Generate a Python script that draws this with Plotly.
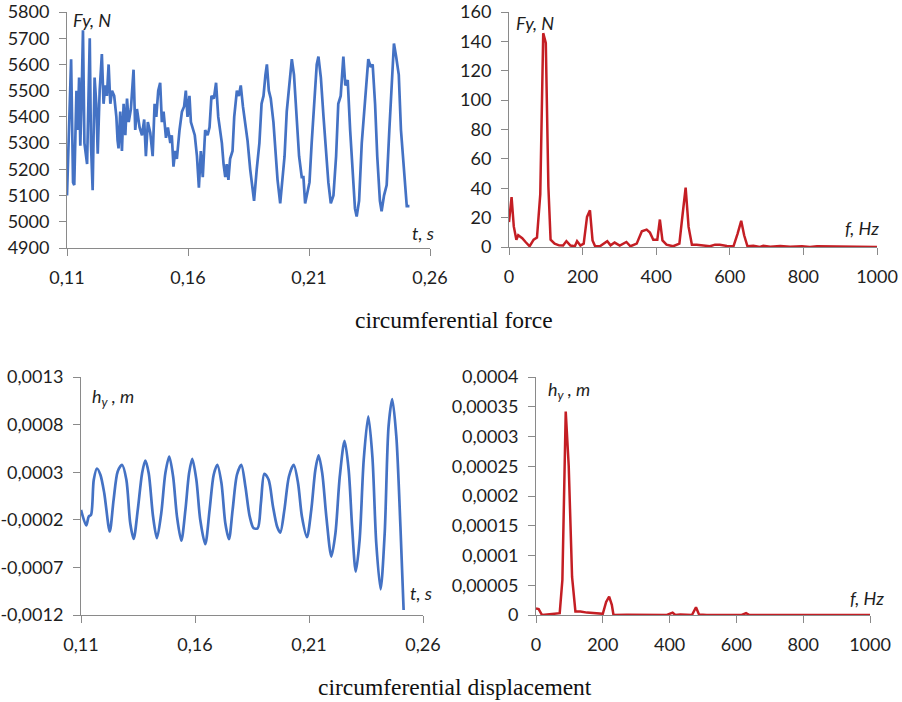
import plotly.graph_objects as go

W, H = 902, 702

# ---------------- data ----------------
# circumferential force, time signal
t_force = [0.1100, 0.1107, 0.1117, 0.1125, 0.1130, 0.1139, 0.1144, 0.1150, 0.1155, 0.1161,
           0.1166, 0.1172, 0.1183, 0.1194, 0.1199, 0.1206, 0.1214, 0.1221, 0.1227, 0.1235,
           0.1244, 0.1251, 0.1258, 0.1265, 0.1272, 0.1279, 0.1286, 0.1295, 0.1304, 0.1309,
           0.1313, 0.1320, 0.1327, 0.1334, 0.1341, 0.1348, 0.1355, 0.1364, 0.1375, 0.1382,
           0.1389, 0.1400, 0.1410, 0.1419, 0.1426, 0.1434, 0.1444, 0.1454, 0.1462, 0.1469,
           0.1477, 0.1485, 0.1492, 0.1499, 0.1509, 0.1517, 0.1527, 0.1533, 0.1540, 0.1547,
           0.1554, 0.1565, 0.1575, 0.1584, 0.1591, 0.1598, 0.1606, 0.1612, 0.1620, 0.1628,
           0.1637, 0.1645, 0.1653, 0.1661, 0.1671, 0.1681, 0.1689, 0.1697, 0.1707, 0.1716,
           0.1725, 0.1733, 0.1740, 0.1747, 0.1754, 0.1760, 0.1767, 0.1774, 0.1784, 0.1791,
           0.1802, 0.1810, 0.1818, 0.1827, 0.1836, 0.1846, 0.1857, 0.1866, 0.1873, 0.1884,
           0.1895, 0.1904, 0.1912, 0.1920, 0.1926, 0.1934, 0.1942, 0.1953, 0.1961, 0.1970,
           0.1981, 0.1990, 0.1999, 0.2008, 0.2018, 0.2029, 0.2038, 0.2049, 0.2059, 0.2070,
           0.2077, 0.2084, 0.2094, 0.2102, 0.2111, 0.2121, 0.2132, 0.2139, 0.2149, 0.2160,
           0.2171, 0.2180, 0.2190, 0.2201, 0.2212, 0.2221, 0.2231, 0.2242, 0.2250, 0.2260,
           0.2270, 0.2281, 0.2290, 0.2297, 0.2307, 0.2318, 0.2327, 0.2338, 0.2345, 0.2355,
           0.2363, 0.2373, 0.2382, 0.2393, 0.2400, 0.2410, 0.2421, 0.2432, 0.2442, 0.2451,
           0.2460, 0.2471, 0.2480, 0.2493, 0.2504, 0.2515]
fy_force = [5100, 5300, 5620, 5150, 5140, 5500, 5350, 5550, 5290, 5500,
            5730, 5300, 5220, 5700, 5300, 5120, 5550, 5450, 5260, 5500,
            5640, 5450, 5520, 5480, 5600, 5450, 5500, 5480, 5400, 5310,
            5280, 5420, 5270, 5450, 5330, 5470, 5380, 5430, 5580, 5350,
            5430, 5360, 5330, 5390, 5250, 5380, 5340, 5250, 5450, 5400,
            5500, 5530, 5380, 5420, 5320, 5360, 5300, 5330, 5210, 5270,
            5240, 5350, 5420, 5440, 5500, 5400, 5480, 5380, 5350, 5330,
            5250, 5130, 5270, 5170, 5350, 5330, 5360, 5480, 5470, 5530,
            5400, 5340, 5300, 5220, 5170, 5220, 5160, 5240, 5270, 5400,
            5500, 5480, 5520, 5440, 5380, 5310, 5200, 5120, 5080, 5200,
            5300, 5450, 5480, 5560, 5600, 5500, 5470, 5380, 5260, 5160,
            5070, 5150, 5250, 5420, 5520, 5620, 5560, 5380, 5250, 5170,
            5170, 5070, 5120, 5150, 5300, 5450, 5600, 5630, 5550, 5400,
            5260, 5150, 5070, 5100, 5250, 5450, 5480, 5630, 5520, 5540,
            5350, 5200, 5050, 5020, 5080, 5300, 5420, 5550, 5620, 5590,
            5600, 5450, 5250, 5080, 5040, 5100, 5140, 5350, 5500, 5680,
            5630, 5560, 5350, 5200, 5060, 5060]

# circumferential force, spectrum
f_force = [0, 7, 13, 20, 25, 36, 45, 56, 67, 76, 85, 93, 100, 107, 113, 124, 136, 147, 156, 167,
           179, 185, 194, 203, 212, 220, 227, 234, 247, 258, 267, 276, 287, 301, 319, 330, 347, 361,
           374, 383, 392, 403, 410, 417, 428, 446, 463, 472, 480, 488, 497, 510, 528, 546, 560, 573,
           592, 610, 621, 631, 639, 648, 664, 682, 691, 710, 737, 764, 796, 818, 837, 864, 882, 909,
           936, 963, 1000]
amp_force = [17, 34, 14, 5, 8, 6, 3.4, 0.5, 5, 6.4, 36, 145.6, 139, 41, 5, 2.3, 1.1, 1, 4, 1,
             0.5, 4, 1, 2.3, 20.5, 25, 4.5, 0.5, 0.5, 2.7, 4, 1.1, 3, 1, 3.4, 0.5, 2.3, 10.7,
             11.8, 9.8, 5, 5, 18.7, 4.5, 1.6, 0.5, 2.3, 22.8, 40.5, 13.7, 1.6, 1.6, 0.9, 0.5, 1.6, 1.6,
             0.7, 0.5, 9, 17.8, 8, 0.5, 0.9, 0, 0.9, 0.2, 0.7, 0.2, 0.5, 0, 0.5, 0.5, 0.5, 0,
             0.5, 0, 0]

# circumferential displacement, time signal
t_disp = [0.1100, 0.1123, 0.1134, 0.1144, 0.1156, 0.1170, 0.1185, 0.1202, 0.1226, 0.1243,
          0.1261, 0.1280, 0.1299, 0.1316, 0.1331, 0.1349, 0.1368, 0.1382, 0.1397, 0.1416,
          0.1433, 0.1452, 0.1470, 0.1487, 0.1504, 0.1521, 0.1540, 0.1558, 0.1574, 0.1588,
          0.1606, 0.1623, 0.1645, 0.1664, 0.1682, 0.1698, 0.1716, 0.1733, 0.1749, 0.1765,
          0.1784, 0.1803, 0.1821, 0.1840, 0.1857, 0.1875, 0.1889, 0.1904, 0.1923, 0.1942,
          0.1960, 0.1974, 0.1992, 0.2012, 0.2033, 0.2052, 0.2069, 0.2091, 0.2110, 0.2128,
          0.2142, 0.2158, 0.2176, 0.2198, 0.2216, 0.2235, 0.2256, 0.2274, 0.2289, 0.2305,
          0.2322, 0.2340, 0.2360, 0.2378, 0.2395, 0.2414, 0.2432, 0.2449, 0.2465, 0.2483,
          0.2501, 0.2515]
hy_disp = [-0.96e-4, -2.6e-4, -1.66e-4, -1.48e-4, 2.2e-4, 3.39e-4, 2.73e-4, 0.8e-4, -3.23e-4, 0.1e-4,
           3.08e-4, 3.78e-4, 2.2e-4, -2.36e-4, -4.0e-4, -0.96e-4, 2.9e-4, 4.23e-4, 2.9e-4, -1.66e-4,
           -3.94e-4, -1.3e-4, 2.9e-4, 4.65e-4, 2.55e-4, -1.66e-4, -4.2e-4, -0.96e-4, 2.9e-4, 4.41e-4,
           2.2e-4, -2.0e-4, -4.57e-4, -0.96e-4, 2.73e-4, 3.78e-4, 1.85e-4, -2.36e-4, -4.04e-4, -0.96e-4,
           2.73e-4, 3.78e-4, 1.5e-4, -1.66e-4, -2.88e-4, -2.88e-4, -0.25e-4, 2.83e-4, 2.2e-4, -0.6e-4,
           -2.7e-4, -3.34e-4, -0.96e-4, 2.55e-4, 3.78e-4, 1.85e-4, -1.66e-4, -3.83e-4, -0.96e-4, 3.25e-4,
           4.76e-4, 2.9e-4, -1.66e-4, -5.86e-4, -3.4e-4, 2.55e-4, 6.3e-4, 3.25e-4, -2.7e-4, -7.44e-4,
           -4.1e-4, 4.3e-4, 8.86e-4, 4.65e-4, -4.46e-4, -9.3e-4, -3.4e-4, 7.81e-4, 10.69e-4, 6.76e-4,
           -2.7e-4, -11.47e-4]

# circumferential displacement, spectrum
f_disp = [0, 8, 18, 33, 53, 71, 79, 89, 98, 108, 118, 133, 153, 172, 200, 210, 219, 227, 232,
          272, 312, 362, 392, 409, 417, 432, 467, 479, 488, 511, 561, 616, 629, 639, 711, 811, 910, 1000]
amp_disp = [1.1e-5, 1.0e-5, 0, 0.1e-5, 0.2e-5, 0.3e-5, 5.9e-5, 34.2e-5, 25e-5, 6.4e-5, 0.6e-5, 0.6e-5,
            0.4e-5, 0.3e-5, 0.2e-5, 2.2e-5, 3.1e-5, 1.7e-5, 0, 0.05e-5, 0.05e-5, 0, 0, 0.4e-5, 0,
            0.1e-5, 0, 1.3e-5, 0.1e-5, 0, 0, 0, 0.3e-5, 0, 0, 0, 0, 0]

# tick values / labels
t_ticks = [0.11, 0.16, 0.21, 0.26]
t_ticktext = ["0,11", "0,16", "0,21", "0,26"]
fy_ticks = [4900, 5000, 5100, 5200, 5300, 5400, 5500, 5600, 5700, 5800]
f_ticks = [0, 200, 400, 600, 800, 1000]
ff_ticks = [0, 20, 40, 60, 80, 100, 120, 140, 160]
hy_ticks = [-0.0012, -0.0007, -0.0002, 0.0003, 0.0008, 0.0013]
hy_ticktext = ["-0,0012", "-0,0007", "-0,0002", "0,0003", "0,0008", "0,0013"]
ah_ticks = [0, 0.00005, 0.0001, 0.00015, 0.0002, 0.00025, 0.0003, 0.00035, 0.0004]
ah_ticktext = ["0", "0,00005", "0,0001", "0,00015", "0,0002", "0,00025", "0,0003", "0,00035", "0,0004"]

BLUE = "#4472C4"
RED = "#C41E24"
AXIS = "#8A8A8A"
TICKFONT = dict(family="Lato, Open Sans, sans-serif", size=18, color="#1E1E1E")
LABELFONT = dict(family="Lato, Open Sans, sans-serif", size=18, color="#1E1E1E")


def px_x(x):
    return x / W


def px_y(y):
    return 1 - y / H


fig = go.Figure()
fig.add_trace(go.Scatter(x=t_force, y=fy_force, mode="lines", line=dict(color=BLUE, width=2.7),
                         xaxis="x", yaxis="y", showlegend=False))
fig.add_trace(go.Scatter(x=f_force, y=amp_force, mode="lines", line=dict(color=RED, width=2.5),
                         xaxis="x2", yaxis="y2", showlegend=False))
fig.add_trace(go.Scatter(x=t_disp, y=hy_disp, mode="lines",
                         line=dict(color=BLUE, width=2.7, shape="spline", smoothing=0.8),
                         xaxis="x3", yaxis="y3", showlegend=False))
fig.add_trace(go.Scatter(x=f_disp, y=amp_disp, mode="lines", line=dict(color=RED, width=2.5),
                         xaxis="x4", yaxis="y4", showlegend=False))


def ax(domain, rng, tickvals, ticktext=None, anchor=None):
    d = dict(domain=domain, range=rng, tickmode="array", tickvals=tickvals,
             showgrid=False, zeroline=False, showline=True, linecolor=AXIS, linewidth=1,
             ticks="outside", ticklen=7, tickcolor=AXIS, tickwidth=1, tickfont=TICKFONT,
             ticklabelstandoff=6, anchor=anchor, fixedrange=True, automargin=False)
    if ticktext is not None:
        d["ticktext"] = ticktext
    return d


fig.update_layout(
    width=W, height=H, margin=dict(l=0, r=0, t=0, b=0),
    paper_bgcolor="white", plot_bgcolor="white",
    xaxis=ax([px_x(67), px_x(430)], [0.11, 0.26], t_ticks, t_ticktext, "y"),
    yaxis=ax([px_y(248), px_y(12)], [4900, 5800], fy_ticks, None, "x"),
    xaxis2=ax([px_x(509), px_x(877)], [0, 1000], f_ticks, None, "y2"),
    yaxis2=ax([px_y(247), px_y(12)], [0, 160], ff_ticks, None, "x2"),
    xaxis3=ax([px_x(81), px_x(423)], [0.11, 0.26], t_ticks, t_ticktext, "y3"),
    yaxis3=ax([px_y(615), px_y(377)], [-0.0012, 0.0013], hy_ticks, hy_ticktext, "x3"),
    xaxis4=ax([px_x(536), px_x(870)], [0, 1000], f_ticks, None, "y4"),
    yaxis4=ax([px_y(615), px_y(377)], [0, 0.0004], ah_ticks, ah_ticktext, "x4"),
)

ann = []


def label(text, x, y, xanchor="left", font=LABELFONT):
    ann.append(dict(text=text, x=px_x(x), y=px_y(y), xref="paper", yref="paper",
                    xanchor=xanchor, yanchor="middle", showarrow=False, font=font))


label("<i>Fy, N</i>", 71, 20)
label("<i>t, s</i>", 436, 233, "right")
label("<i>Fy, N</i>", 514, 23)
label("<i>f, Hz</i>", 881, 228, "right")
label("<i>h<sub>y</sub> , m</i>", 90, 398)
label("<i>t, s</i>", 434, 593, "right")
label("<i>h<sub>y</sub> , m</i>", 546, 391)
label("<i>f, Hz</i>", 886, 598, "right")

TITLEFONT = dict(family="Liberation Serif, Times New Roman, serif", size=23.5, color="#111111")
label("circumferential force", 454, 320, "center", TITLEFONT)
label("circumferential displacement", 455, 687, "center", TITLEFONT)

fig.update_layout(annotations=ann)
fig.write_html("out.html")
